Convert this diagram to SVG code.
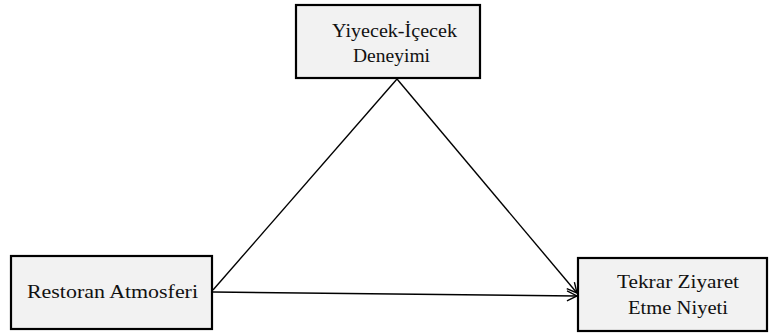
<svg xmlns="http://www.w3.org/2000/svg" width="771" height="334" viewBox="0 0 771 334">
<style>
.box{fill:#f2f2f2;stroke:#000;stroke-width:2.2}
.t{font-family:"Liberation Serif","DejaVu Serif",serif;font-size:19.5px;fill:#111;text-anchor:middle}
.c{stroke:#000;stroke-width:1.4;fill:none}
</style>
<defs>
<marker id="ah" markerWidth="12" markerHeight="12" refX="11" refY="6" orient="auto" markerUnits="userSpaceOnUse">
<path d="M1,1 L11,6 L1,11" fill="none" stroke="#000" stroke-width="1.4"/>
</marker>
</defs>
<rect width="771" height="334" fill="#fff"/>
<g id="connectors">
<line class="c" x1="213" y1="290" x2="397" y2="79"/>
<line class="c" x1="397" y1="79" x2="577" y2="293" marker-end="url(#ah)"/>
<line class="c" x1="213" y1="292" x2="577" y2="296" marker-end="url(#ah)"/>
</g>
<g id="n1">
<rect class="box" x="296" y="5" width="184" height="73"/>
<text class="t" x="394.5" y="37" textLength="125" lengthAdjust="spacingAndGlyphs">Yiyecek-İçecek</text>
<text class="t" x="391.5" y="62" textLength="77" lengthAdjust="spacingAndGlyphs">Deneyimi</text>
</g>
<g id="n2">
<rect class="box" x="11" y="256" width="201" height="73"/>
<text class="t" x="112.5" y="298" textLength="171" lengthAdjust="spacingAndGlyphs">Restoran Atmosferi</text>
</g>
<g id="n3">
<rect class="box" x="578" y="258" width="189" height="73"/>
<text class="t" x="678" y="288" textLength="122" lengthAdjust="spacingAndGlyphs">Tekrar Ziyaret</text>
<text class="t" x="678" y="314" textLength="100" lengthAdjust="spacingAndGlyphs">Etme Niyeti</text>
</g>
</svg>
